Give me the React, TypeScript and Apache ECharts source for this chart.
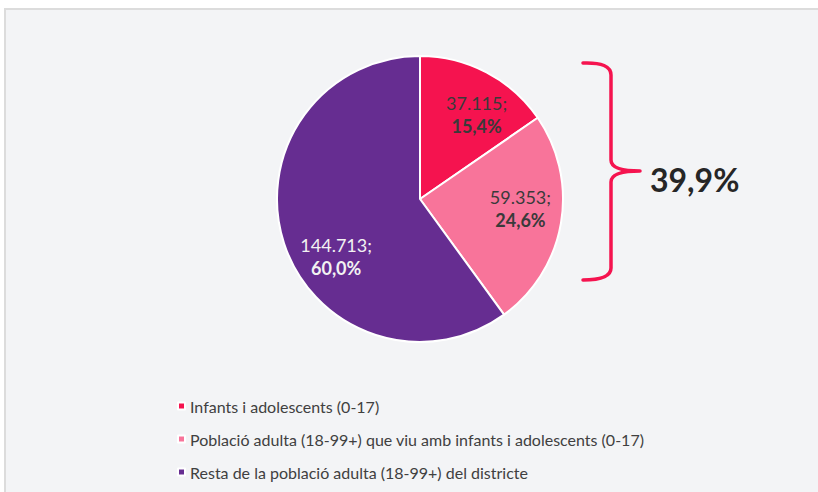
import React, { useEffect, useRef } from "react";
import * as echarts from "echarts";

const categories = [
  "Infants i adolescents (0-17)",
  "Població adulta (18-99+) que viu amb infants i adolescents (0-17)",
  "Resta de la població adulta (18-99+) del districte",
];
const values = [37115, 59353, 144713];
const colors = ["#F5134F", "#F8749A", "#662D91"];
const labelColors = ["#3A3A3A", "#3A3A3A", "#F2F2F2"];
const braceLabel = "39,9%";

const FONT = "Lato, 'Noto Sans', sans-serif";
const labelOffsets = [
  [22, -19],
  [27, -3],
  [-13, 34],
];

const bracePath =
  "M583,63 Q611,62 611,75 L611,160 Q611,171 640,171 Q611,171 611,182 L611,268 Q611,280 583,280";

function fmtThousands(v: number): string {
  return String(v).replace(/\B(?=(\d{3})+(?!\d))/g, ".");
}

export default function App() {
  const ref = useRef<HTMLDivElement>(null);
  useEffect(() => {
    if (!ref.current) return;
    try {
      echarts.graphic.registerShape("brace", echarts.graphic.extendPath(bracePath, {}) as any);
    } catch (e) {}
    const chart = echarts.init(ref.current, undefined, { renderer: "svg" });
    const total = values.reduce((a, b) => a + b, 0);
    chart.setOption({
      animation: false,
      backgroundColor: "#FFFFFF",
      graphic: [
        {
          type: "rect",
          z: -10,
          shape: { x: 5, y: 9, width: 830, height: 500 },
          style: { fill: "#F3F4F6", stroke: "#DCDCDC", lineWidth: 2 },
        },
        {
          type: "brace",
          x: 0,
          y: 0,
          style: { fill: "none", stroke: "#F5134F", lineWidth: 3.5, lineCap: "round", lineJoin: "round" },
        },
        {
          type: "text",
          left: 650,
          top: 163,
          style: {
            text: braceLabel,
            font: `bold 32px ${FONT}`,
            fill: "#262626",
          },
        },
      ],
      legend: {
        orient: "vertical",
        left: 172,
        top: 393,
        icon: "rect",
        itemWidth: 7,
        itemHeight: 7,
        itemGap: 17,
        data: categories,
        textStyle: { fontSize: 16, color: "#404040", fontFamily: FONT },
      },
      series: [
        {
          type: "pie",
          center: [420, 199],
          radius: [0, 143],
          startAngle: 90,
          avoidLabelOverlap: false,
          itemStyle: { borderColor: "#FFFFFF", borderWidth: 2 },
          label: {
            show: true,
            position: "inside",
            formatter: (p: any) =>
              `{a|${fmtThousands(p.value)};}\n{b|${((p.value / total) * 100).toFixed(1).replace(".", ",")}%}`,
          },
          labelLayout: (p: any) => ({ dx: labelOffsets[p.dataIndex][0], dy: labelOffsets[p.dataIndex][1] }),
          labelLine: { show: false },
          data: categories.map((name, i) => ({
            name,
            value: values[i],
            itemStyle: { color: colors[i] },
            label: {
              rich: {
                a: { fontSize: 18, fontFamily: FONT, color: labelColors[i], lineHeight: 23 },
                b: { fontSize: 18, fontFamily: FONT, fontWeight: "bold", color: labelColors[i], lineHeight: 23 },
              },
            },
          })),
        },
      ],
    });
    return () => chart.dispose();
  }, []);
  return (
    <div
      ref={ref}
      style={{ position: "absolute", left: 0, top: 0, width: 818, height: 492 }}
    />
  );
}
